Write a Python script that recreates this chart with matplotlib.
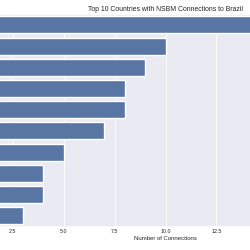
"""Top 10 countries with NSBM connections to Brazil (cropped view)."""

import matplotlib
matplotlib.use("Agg")
import matplotlib.pyplot as plt
import seaborn as sns

countries = [
    "United States", "Germany", "Russia", "Poland", "France",
    "Ukraine", "Italy", "Argentina", "Chile", "Portugal",
]
connections = [19, 10, 9, 8, 8, 7, 5, 4, 4, 3]

sns.set_theme(style="darkgrid")
plt.rcParams["font.family"] = ["Liberation Sans", "DejaVu Sans"]

fig = plt.figure(figsize=(2.5, 2.5), dpi=100)
ax = fig.add_axes([-0.152, 0.094, 1.624, 0.849])
sns.barplot(x=connections, y=countries, color="#4c72b0", ax=ax)

ax.set_title("Top 10 Countries with NSBM Connections to Brazil", fontsize=4.95, pad=2)
ax.set_xlabel("Number of Connections", fontsize=4.3, labelpad=1.5)
ax.set_ylabel("")
ax.tick_params(axis="both", labelsize=3.8, pad=2, length=0)
ax.grid(linewidth=0.6, axis="x")

fig.savefig("out.png", dpi=100)
